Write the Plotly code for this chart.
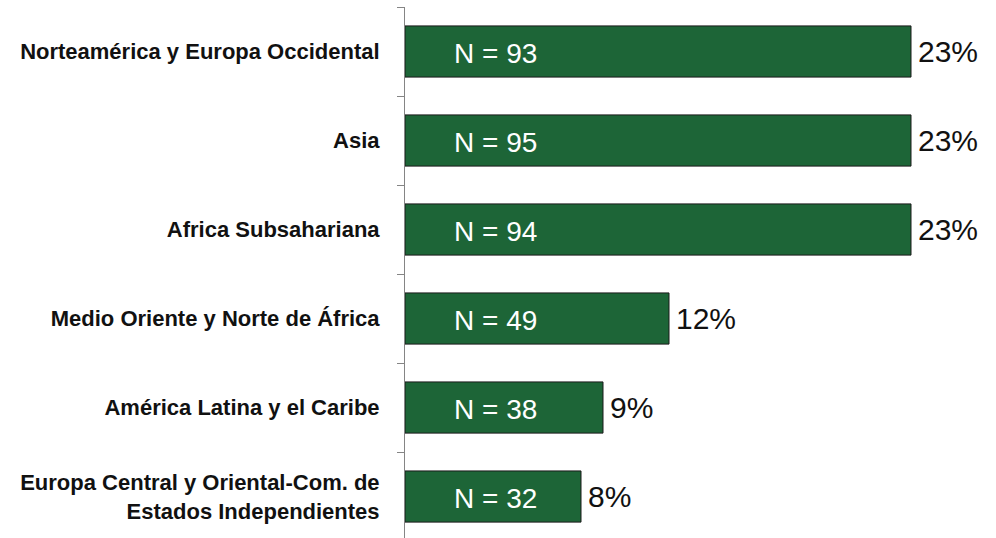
import plotly.graph_objects as go

categories = [
    "Norteamérica y Europa Occidental",
    "Asia",
    "Africa Subsahariana",
    "Medio Oriente y Norte de África",
    "América Latina y el Caribe",
    "Europa Central y Oriental-Com. de<br>Estados Independientes",
]
percent_values = [23, 23, 23, 12, 9, 8]
n_values = [93, 95, 94, 49, 38, 32]

GREEN = "rgb(29,101,55)"

fig = go.Figure()
fig.add_trace(go.Bar(
    y=categories,
    x=percent_values,
    orientation="h",
    width=0.575,
    marker=dict(color=GREEN, line=dict(color="#1a1a1a", width=1)),
    hoverinfo="skip",
))

annotations = []
for cat, v, n in zip(categories, percent_values, n_values):
    annotations.append(dict(
        x=v, y=cat, xref="x", yref="y", text=f"{v}%", showarrow=False,
        xanchor="left", yanchor="middle", xshift=5,
        font=dict(family="Liberation Sans, Arial, sans-serif", size=30, color="#111"),
    ))
    annotations.append(dict(
        x=0, y=cat, xref="x", yref="y", text=f"N = {n}", showarrow=False,
        xanchor="left", yanchor="middle", xshift=47, yshift=-2,
        font=dict(family="Liberation Sans, Arial, sans-serif", size=28, color="white"),
    ))

fig.update_layout(
    width=996, height=538,
    margin=dict(l=405, r=19, t=7, b=0),
    paper_bgcolor="white", plot_bgcolor="white",
    showlegend=False,
    annotations=annotations,
    xaxis=dict(range=[0, 26], visible=False, fixedrange=True),
    yaxis=dict(
        type="category",
        categoryorder="array", categoryarray=categories,
        range=[5.466, -0.5],
        fixedrange=True,
        showline=True, linecolor="#858585", linewidth=1,
        ticks="outside", tickson="boundaries", ticklen=7, tickcolor="#858585", tickwidth=1,
        showgrid=False, zeroline=False,
        ticklabelstandoff=20,
        tickfont=dict(family="Liberation Sans, Arial, sans-serif", size=22, color="#111", weight="bold"),
    ),
)

fig.write_html(
    "out.html",
    config={"displayModeBar": False, "staticPlot": True},
    post_script="document.body.style.margin='0';document.body.style.overflow='hidden';",
)
